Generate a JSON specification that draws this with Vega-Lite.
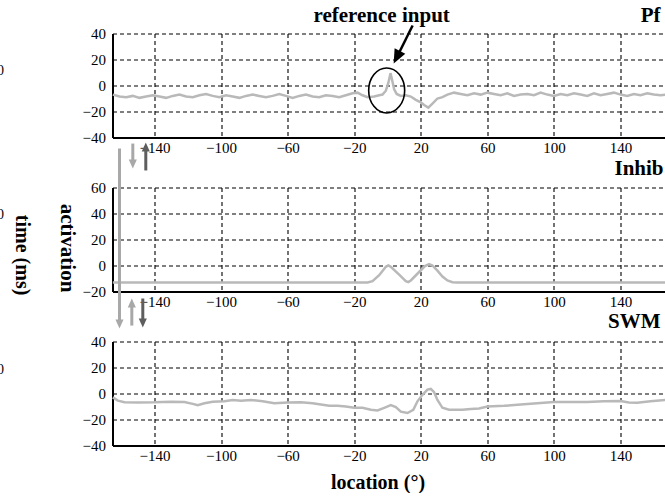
{
  "$schema": "https://vega.github.io/schema/vega-lite/v6.json",
  "background": "white",
  "padding": {"left": -3.5, "top": 4.5, "right": 0, "bottom": 0},
  "bounds": "flush",
  "spacing": 50,
  "config": {
    "font": "Liberation Serif",
    "view": {"stroke": null},
    "axis": {
      "domainColor": "black", "domainWidth": 2, "ticks": false,
      "gridColor": "black", "gridDash": [4, 3], "gridWidth": 1.1, "gridOpacity": 1,
      "labelFont": "Liberation Serif", "labelFontSize": 15, "labelColor": "black",
      "labelFlush": false, "labelOverlap": false,
      "titleFont": "Liberation Serif", "titleColor": "black", "titleFontWeight": "bold", "titleFontSize": 20
    },
    "axisX": {"labelPadding": 3},
    "axisY": {"labelPadding": 7}
  },
  "datasets": {
    "pf": [
      {"x": -165, "y": -7}, {"x": -161, "y": -8.5}, {"x": -157, "y": -9}, {"x": -153, "y": -8}, {"x": -149, "y": -9.5},
      {"x": -145, "y": -8.5}, {"x": -141, "y": -7.5}, {"x": -137, "y": -8.5}, {"x": -133, "y": -9.5}, {"x": -129, "y": -8},
      {"x": -125, "y": -7}, {"x": -121, "y": -8.5}, {"x": -117, "y": -9}, {"x": -113, "y": -7.5}, {"x": -109, "y": -6.5},
      {"x": -105, "y": -8}, {"x": -101, "y": -9}, {"x": -97, "y": -7.5}, {"x": -93, "y": -8.5}, {"x": -89, "y": -9.5},
      {"x": -85, "y": -8}, {"x": -81, "y": -7}, {"x": -77, "y": -8}, {"x": -73, "y": -9}, {"x": -69, "y": -8},
      {"x": -65, "y": -6.5}, {"x": -61, "y": -8}, {"x": -57, "y": -9.5}, {"x": -53, "y": -8}, {"x": -49, "y": -7},
      {"x": -45, "y": -8.5}, {"x": -41, "y": -9}, {"x": -37, "y": -7.5}, {"x": -33, "y": -8}, {"x": -29, "y": -9},
      {"x": -25, "y": -7.5}, {"x": -21, "y": -6}, {"x": -18, "y": -5.5}, {"x": -15, "y": -7.5}, {"x": -12, "y": -9},
      {"x": -8, "y": -8.5}, {"x": -5, "y": -7.5}, {"x": -3, "y": -7}, {"x": -1, "y": -4}, {"x": 0.5, "y": 2},
      {"x": 1.8, "y": 9.5}, {"x": 2.8, "y": 4}, {"x": 4, "y": -3}, {"x": 5.5, "y": -6.5}, {"x": 8, "y": -8},
      {"x": 11, "y": -7.5}, {"x": 14, "y": -8.5}, {"x": 17, "y": -11}, {"x": 20, "y": -13}, {"x": 22, "y": -15},
      {"x": 24.5, "y": -17}, {"x": 27, "y": -14}, {"x": 30, "y": -10}, {"x": 33, "y": -9}, {"x": 36, "y": -7},
      {"x": 40, "y": -5.5}, {"x": 44, "y": -6.5}, {"x": 48, "y": -7.5}, {"x": 52, "y": -6}, {"x": 56, "y": -7},
      {"x": 60, "y": -5.5}, {"x": 64, "y": -6.5}, {"x": 68, "y": -7.5}, {"x": 72, "y": -6}, {"x": 76, "y": -8},
      {"x": 80, "y": -7}, {"x": 84, "y": -6.5}, {"x": 88, "y": -7.5}, {"x": 92, "y": -5.5}, {"x": 96, "y": -7},
      {"x": 100, "y": -8}, {"x": 104, "y": -6.5}, {"x": 108, "y": -7.5}, {"x": 112, "y": -6}, {"x": 116, "y": -7},
      {"x": 120, "y": -8}, {"x": 124, "y": -6}, {"x": 128, "y": -7.5}, {"x": 132, "y": -6.5}, {"x": 136, "y": -5.5},
      {"x": 140, "y": -7}, {"x": 144, "y": -8}, {"x": 148, "y": -6.5}, {"x": 152, "y": -7.5}, {"x": 156, "y": -6},
      {"x": 160, "y": -7}, {"x": 164, "y": -7.5}, {"x": 167, "y": -7}
    ],
    "inhib": [
      {"x": -165, "y": -13}, {"x": -12, "y": -13}, {"x": -9, "y": -12}, {"x": -5, "y": -7.5}, {"x": -1, "y": -1},
      {"x": 0.5, "y": 0}, {"x": 2, "y": -1}, {"x": 7, "y": -7}, {"x": 11, "y": -12}, {"x": 12.5, "y": -12.8},
      {"x": 14, "y": -11.5}, {"x": 19, "y": -5}, {"x": 22.5, "y": -0.5}, {"x": 25, "y": 1}, {"x": 27, "y": 0},
      {"x": 30, "y": -4}, {"x": 33, "y": -8.5}, {"x": 36, "y": -11.5}, {"x": 39, "y": -12.8}, {"x": 42, "y": -13},
      {"x": 167, "y": -13}
    ],
    "swm": [
      {"x": -165, "y": -3}, {"x": -162, "y": -5.5}, {"x": -158, "y": -6.7}, {"x": -150, "y": -7}, {"x": -140, "y": -6.8},
      {"x": -130, "y": -6.3}, {"x": -122, "y": -6.5}, {"x": -117, "y": -8}, {"x": -114, "y": -9}, {"x": -110, "y": -7.5},
      {"x": -105, "y": -6.3}, {"x": -98, "y": -6}, {"x": -93, "y": -5}, {"x": -88, "y": -5.5}, {"x": -82, "y": -5},
      {"x": -75, "y": -6}, {"x": -68, "y": -7.5}, {"x": -60, "y": -7}, {"x": -52, "y": -6.8}, {"x": -45, "y": -7.5},
      {"x": -40, "y": -8.5}, {"x": -35, "y": -9.5}, {"x": -30, "y": -9.5}, {"x": -25, "y": -10}, {"x": -20, "y": -11},
      {"x": -15, "y": -11}, {"x": -10, "y": -12.5}, {"x": -6, "y": -13}, {"x": -2, "y": -11}, {"x": 2, "y": -9},
      {"x": 5, "y": -10.5}, {"x": 8, "y": -14}, {"x": 12, "y": -15}, {"x": 15.5, "y": -12.5}, {"x": 18, "y": -6},
      {"x": 21, "y": -1}, {"x": 24, "y": 3}, {"x": 26, "y": 3.5}, {"x": 28, "y": 1}, {"x": 30, "y": -5},
      {"x": 33, "y": -11}, {"x": 37, "y": -12.5}, {"x": 45, "y": -12.5}, {"x": 50, "y": -12}, {"x": 55, "y": -11.5},
      {"x": 60, "y": -10}, {"x": 70, "y": -9.5}, {"x": 80, "y": -8.5}, {"x": 90, "y": -7.5}, {"x": 100, "y": -6.5},
      {"x": 110, "y": -6.5}, {"x": 120, "y": -6.5}, {"x": 130, "y": -6}, {"x": 140, "y": -5.8}, {"x": 145, "y": -7},
      {"x": 150, "y": -7.2}, {"x": 158, "y": -6}, {"x": 167, "y": -5}
    ],
    "refArrow": [{"x": 15.1, "y": 46.2, "x2": 5.6, "y2": 21.7}],
    "refHead": [{"x": 5.6, "y": 21.7}],
    "refCircle": [{"x": -0.5, "y": -3.8}],
    "pfText": [{"x": -3.5, "y": 53.8, "label": "reference input"}, {"x": 164, "y": 53.8, "label": "Pf"}],
    "inhibText": [{"x": 165.8, "y": 74.5, "label": "Inhib"}],
    "swmText": [{"x": 164, "y": 55, "label": "SWM"}],
    "timeText": [{"x": -219.3, "y": 8, "label": "time (ms)"}],
    "cut1": [{"x": -230.4, "y": 11.5, "label": "0"}],
    "cut2": [{"x": -230.4, "y": 38.5, "label": "0"}],
    "cut3": [{"x": -230.4, "y": 17.7, "label": "0"}],
    "grayShafts": [
      {"x": -161, "y": 90, "y2": -45},
      {"x": -153, "y": 93.8, "y2": 78.1},
      {"x": -153.6, "y": -46.2, "y2": -28.8}
    ],
    "darkShafts": [
      {"x": -145.2, "y": 73.1, "y2": 91.2},
      {"x": -147, "y": -25.4, "y2": -44.2}
    ],
    "grayHeads": [
      {"x": -161, "y": -45, "dir": "down"},
      {"x": -153, "y": 78.1, "dir": "down"},
      {"x": -153.6, "y": -28.8, "dir": "up"}
    ],
    "darkHeads": [
      {"x": -145.2, "y": 91.2, "dir": "up"},
      {"x": -147, "y": -44.2, "dir": "down"}
    ]
  },
  "vconcat": [
    {
      "width": 553, "height": 104,
      "layer": [
        {
          "data": {"name": "pf"},
          "mark": {"type": "line", "color": "#b9b9b9", "strokeWidth": 2.5},
          "encoding": {
            "x": {"field": "x", "type": "quantitative", "scale": {"domain": [-165.2, 167], "nice": false, "zero": false},
                  "axis": {"values": [-140, -100, -60, -20, 20, 60, 100, 140], "tickCount": 20, "title": null, "labelOverlap": false}},
            "y": {"field": "y", "type": "quantitative", "scale": {"domain": [-40, 40], "nice": false, "zero": false},
                  "axis": {"values": [-40, -20, 0, 20, 40], "tickCount": 10, "title": null, "labelOverlap": false}}
          }
        },
        {
          "data": {"name": "refArrow"},
          "mark": {"type": "rule", "color": "black", "strokeWidth": 2.5, "clip": false},
          "encoding": {
            "x": {"field": "x", "type": "quantitative"}, "y": {"field": "y", "type": "quantitative"},
            "x2": {"field": "x2"}, "y2": {"field": "y2"}
          }
        },
        {
          "data": {"name": "refHead"},
          "mark": {"type": "point", "shape": "M-0.85,-1L0.85,-1L0,1Z", "filled": true, "color": "black", "opacity": 1, "size": 196, "angle": 26.6, "clip": false},
          "encoding": {"x": {"field": "x", "type": "quantitative"}, "y": {"field": "y", "type": "quantitative"}}
        },
        {
          "data": {"name": "refCircle"},
          "mark": {"type": "point", "shape": "M0,-1C0.4418,-1,0.8,-0.5523,0.8,0C0.8,0.5523,0.4418,1,0,1C-0.4418,1,-0.8,0.5523,-0.8,0C-0.8,-0.5523,-0.4418,-1,0,-1Z", "filled": false, "stroke": "black", "strokeWidth": 1.6, "opacity": 1, "size": 2025, "clip": false},
          "encoding": {"x": {"field": "x", "type": "quantitative"}, "y": {"field": "y", "type": "quantitative"}}
        },
        {
          "data": {"name": "pfText"},
          "transform": [{"filter": "datum.label === 'Pf'"}],
          "mark": {"type": "text", "font": "Liberation Serif", "fontSize": 21, "fontWeight": "bold", "align": "right", "baseline": "middle", "color": "black", "clip": false},
          "encoding": {"x": {"field": "x", "type": "quantitative"}, "y": {"field": "y", "type": "quantitative"}, "text": {"field": "label"}}
        },
        {
          "data": {"name": "pfText"},
          "transform": [{"filter": "datum.label !== 'Pf'"}],
          "mark": {"type": "text", "font": "Liberation Serif", "fontSize": 21, "fontWeight": "bold", "align": "center", "baseline": "middle", "color": "black", "clip": false},
          "encoding": {"x": {"field": "x", "type": "quantitative"}, "y": {"field": "y", "type": "quantitative"}, "text": {"field": "label"}}
        },
        {
          "data": {"name": "cut1"},
          "mark": {"type": "text", "font": "Liberation Serif", "fontSize": 14, "align": "right", "baseline": "middle", "color": "black", "clip": false},
          "encoding": {"x": {"field": "x", "type": "quantitative"}, "y": {"field": "y", "type": "quantitative"}, "text": {"field": "label"}}
        }
      ]
    },
    {
      "width": 553, "height": 104,
      "layer": [
        {
          "data": {"name": "inhib"},
          "mark": {"type": "line", "color": "#b9b9b9", "strokeWidth": 2.5},
          "encoding": {
            "x": {"field": "x", "type": "quantitative", "scale": {"domain": [-165.2, 167], "nice": false, "zero": false},
                  "axis": {"values": [-140, -100, -60, -20, 20, 60, 100, 140], "tickCount": 20, "title": null, "labelOverlap": false}},
            "y": {"field": "y", "type": "quantitative", "scale": {"domain": [-20, 60], "nice": false, "zero": false},
                  "axis": {"values": [-20, 0, 20, 40, 60], "tickCount": 10, "labelOverlap": false, "title": "activation", "titleFontSize": 21, "titleAngle": 90, "titleBaseline": "top", "titlePadding": 5, "titleY": 60}}
          }
        },
        {
          "data": {"name": "grayShafts"},
          "mark": {"type": "rule", "color": "#a8a8a8", "strokeWidth": 3, "clip": false},
          "encoding": {"x": {"field": "x", "type": "quantitative"}, "y": {"field": "y", "type": "quantitative"}, "y2": {"field": "y2"}}
        },
        {
          "data": {"name": "darkShafts"},
          "mark": {"type": "rule", "color": "#5e5e5e", "strokeWidth": 3, "clip": false},
          "encoding": {"x": {"field": "x", "type": "quantitative"}, "y": {"field": "y", "type": "quantitative"}, "y2": {"field": "y2"}}
        },
        {
          "data": {"name": "grayHeads"},
          "mark": {"type": "point", "filled": true, "color": "#a8a8a8", "opacity": 1, "size": 81, "clip": false},
          "encoding": {
            "x": {"field": "x", "type": "quantitative"}, "y": {"field": "y", "type": "quantitative"},
            "shape": {"field": "dir", "type": "nominal", "scale": {"domain": ["down", "up"], "range": ["M-0.9,-1L0.9,-1L0,1Z", "M-0.9,1L0.9,1L0,-1Z"]}, "legend": null}
          }
        },
        {
          "data": {"name": "darkHeads"},
          "mark": {"type": "point", "filled": true, "color": "#5e5e5e", "opacity": 1, "size": 81, "clip": false},
          "encoding": {
            "x": {"field": "x", "type": "quantitative"}, "y": {"field": "y", "type": "quantitative"},
            "shape": {"field": "dir", "type": "nominal", "scale": {"domain": ["down", "up"], "range": ["M-0.9,-1L0.9,-1L0,1Z", "M-0.9,1L0.9,1L0,-1Z"]}, "legend": null}
          }
        },
        {
          "data": {"name": "inhibText"},
          "mark": {"type": "text", "font": "Liberation Serif", "fontSize": 21, "fontWeight": "bold", "align": "right", "baseline": "middle", "color": "black", "clip": false},
          "encoding": {"x": {"field": "x", "type": "quantitative"}, "y": {"field": "y", "type": "quantitative"}, "text": {"field": "label"}}
        },
        {
          "data": {"name": "timeText"},
          "mark": {"type": "text", "font": "Liberation Serif", "fontSize": 20, "fontWeight": "bold", "angle": 90, "align": "center", "baseline": "middle", "color": "black", "clip": false},
          "encoding": {"x": {"field": "x", "type": "quantitative"}, "y": {"field": "y", "type": "quantitative"}, "text": {"field": "label"}}
        },
        {
          "data": {"name": "cut2"},
          "mark": {"type": "text", "font": "Liberation Serif", "fontSize": 14, "align": "right", "baseline": "middle", "color": "black", "clip": false},
          "encoding": {"x": {"field": "x", "type": "quantitative"}, "y": {"field": "y", "type": "quantitative"}, "text": {"field": "label"}}
        }
      ],
      "resolve": {"scale": {"shape": "shared"}}
    },
    {
      "width": 553, "height": 104,
      "layer": [
        {
          "data": {"name": "swm"},
          "mark": {"type": "line", "color": "#b9b9b9", "strokeWidth": 2.5},
          "encoding": {
            "x": {"field": "x", "type": "quantitative", "scale": {"domain": [-165.2, 167], "nice": false, "zero": false},
                  "axis": {"values": [-140, -100, -60, -20, 20, 60, 100, 140], "tickCount": 20, "labelOverlap": false, "title": "location (°)", "titleX": 265, "titlePadding": 9}},
            "y": {"field": "y", "type": "quantitative", "scale": {"domain": [-40, 40], "nice": false, "zero": false},
                  "axis": {"values": [-40, -20, 0, 20, 40], "tickCount": 10, "title": null, "labelOverlap": false}}
          }
        },
        {
          "data": {"name": "swmText"},
          "mark": {"type": "text", "font": "Liberation Serif", "fontSize": 21, "fontWeight": "bold", "align": "right", "baseline": "middle", "color": "black", "clip": false},
          "encoding": {"x": {"field": "x", "type": "quantitative"}, "y": {"field": "y", "type": "quantitative"}, "text": {"field": "label"}}
        },
        {
          "data": {"name": "cut3"},
          "mark": {"type": "text", "font": "Liberation Serif", "fontSize": 14, "align": "right", "baseline": "middle", "color": "black", "clip": false},
          "encoding": {"x": {"field": "x", "type": "quantitative"}, "y": {"field": "y", "type": "quantitative"}, "text": {"field": "label"}}
        }
      ]
    }
  ]
}
